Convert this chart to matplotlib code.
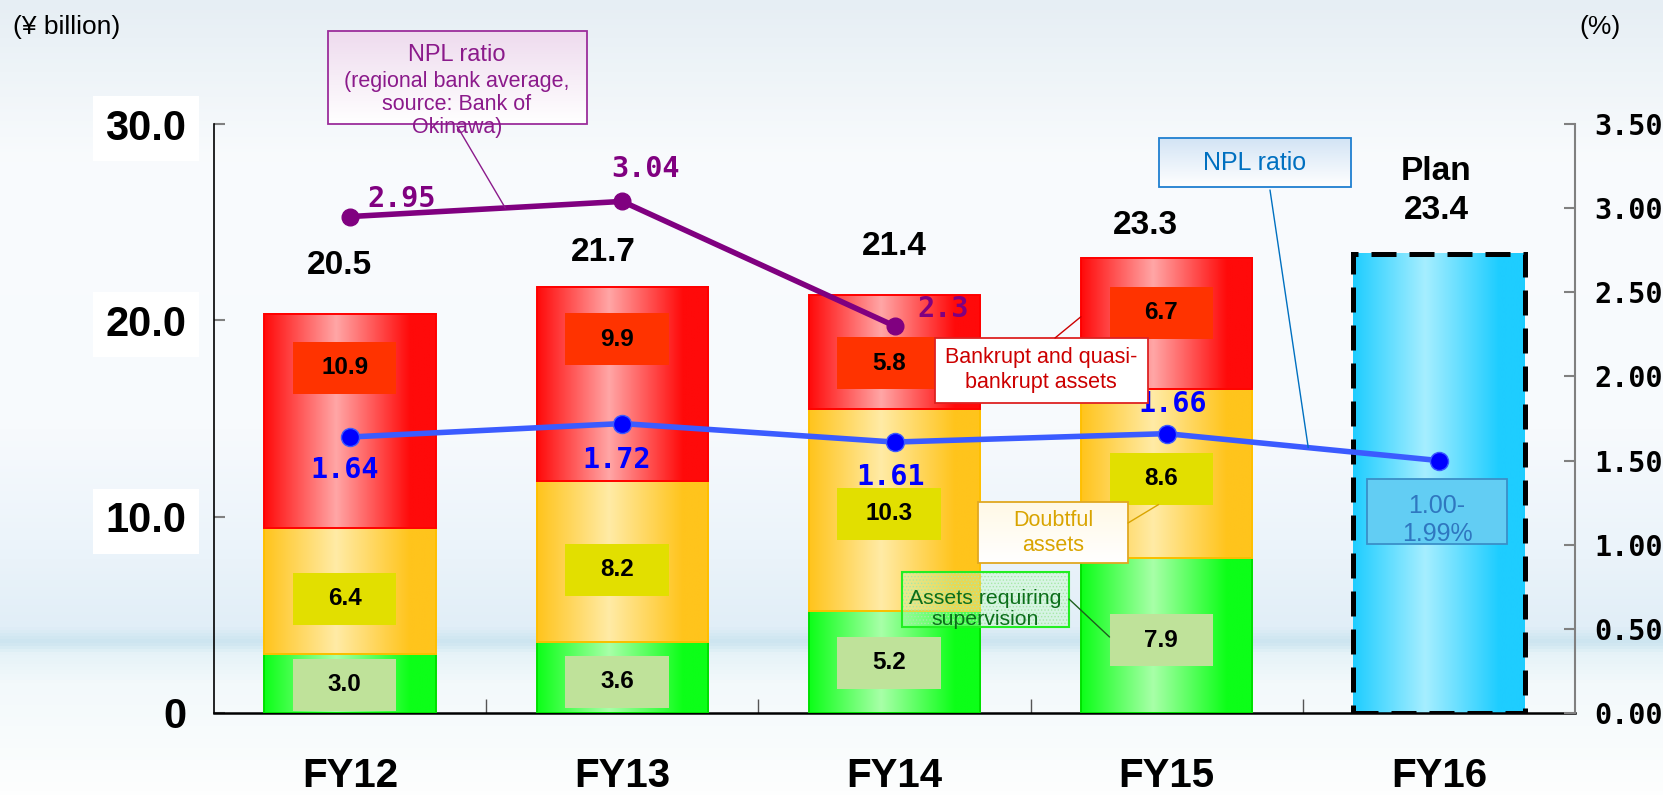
import numpy as np
import matplotlib
matplotlib.use('Agg')
import matplotlib.pyplot as plt
from matplotlib.colors import LinearSegmentedColormap
from matplotlib.patches import Rectangle, ConnectionPatch

years = ['FY12', 'FY13', 'FY14', 'FY15', 'FY16']
supervision = [3.0, 3.6, 5.2, 7.9]
doubtful = [6.4, 8.2, 10.3, 8.6]
bankrupt = [10.9, 9.9, 5.8, 6.7]
totals = [20.5, 21.7, 21.4, 23.3]
plan_total = 23.4
npl_ratio = [1.64, 1.72, 1.61, 1.66, 1.50]
regional_avg = [2.95, 3.04, 2.3]

plt.rcParams['font.family'] = ['Liberation Sans', 'DejaVu Sans']
plt.rcParams['hatch.linewidth'] = 0.6
MONO = 'DejaVu Sans Mono'

W, H = 1663, 795
fig = plt.figure(figsize=(W / 100, H / 100), dpi=100)

# pale sky / sea backdrop
bg = fig.add_axes([0, 0, 1, 1], zorder=-10)
stops = [(0, '#e6eef4'), (70, '#eef4f8'), (160, '#f9fbfd'), (430, '#f7fafd'),
         (560, '#eaf3fa'), (628, '#e1eef7'), (643, '#cce5f0'), (655, '#e6f3f8'),
         (685, '#f3f9fb'), (795, '#fdfefe')]
bg_cmap = LinearSegmentedColormap.from_list('bg', [(p / H, c) for p, c in stops])
bg.imshow(np.linspace(0, 1, H).reshape(-1, 1), cmap=bg_cmap, aspect='auto',
          extent=[0, 1, 0, 1])
bg.set_xlim(0, 1)
bg.set_ylim(0, 1)
bg.axis('off')

ax = fig.add_axes([214 / W, 1 - 713 / H, (1575 - 214) / W, (713 - 124) / H], zorder=1)
ax.patch.set_visible(False)
ax2 = ax.twinx()
ax2.set_zorder(2)
ax2.patch.set_visible(False)

x = np.arange(len(years))
width = 0.63


def grad(edge, mid):
    return LinearSegmentedColormap.from_list('', [(0, edge), (0.42, mid), (0.85, edge), (1, edge)])


def shade(bar, cmap):
    x0, y0 = bar.get_x(), bar.get_y()
    ax.imshow(np.linspace(0, 1, 256).reshape(1, -1), cmap=cmap, aspect='auto',
              interpolation='bilinear', zorder=2,
              extent=[x0, x0 + bar.get_width(), y0, y0 + bar.get_height()])


segments = [
    (supervision, '#0cff18', '#a8ffa8', '#00e000', '#bfe29a', [0.48, 0.44, 0.49, 0.47]),
    (doubtful, '#ffc41c', '#ffeba6', '#ffbf00', '#e2df00', [0.44, 0.45, 0.48, 0.47]),
    (bankrupt, '#ff0a0a', '#ffa6a6', '#ff0000', '#ff3300', [0.75, 0.73, 0.40, 0.58]),
]
box_w, box_h = 0.38, 2.65
bottoms = np.zeros(4)
for vals, edge, mid, line, boxc, fracs in segments:
    bars = ax.bar(x[:4], vals, width, bottom=bottoms, facecolor='none',
                  edgecolor=line, linewidth=1.4, zorder=3)
    cm = grad(edge, mid)
    for b in bars:
        shade(b, cm)
    for i, v in enumerate(vals):
        yc = bottoms[i] + v * fracs[i]
        ax.add_patch(Rectangle((x[i] - box_w / 2 - 0.02, yc - box_h / 2), box_w, box_h,
                               facecolor=boxc, edgecolor='none', zorder=4))
        ax.text(x[i] - 0.02, yc, f'{v:.1f}', ha='center', va='center', fontsize=17.5,
                fontweight='bold', color='black', zorder=5)
    bottoms += np.array(vals)

# FY16 plan bar
plan = ax.bar(x[4], plan_total, width, facecolor='none', edgecolor='black',
              linewidth=3.6, linestyle=(0, (5, 2.6)), zorder=3)
shade(plan[0], grad('#1ecdff', '#a6eeff'))

# total labels above the bars
tot_text = [f'{t:.1f}' for t in totals] + [f'Plan\n{plan_total:.1f}']
tot_top = list(bottoms) + [plan_total]
tot_off = [(-8, 35), (-14, 25), (0, 35), (-15, 23), (-2, 45)]
for i, (s, top) in enumerate(zip(tot_text, tot_top)):
    ax.annotate(s, (x[i], top), xytext=tot_off[i], textcoords='offset points',
                ha='center', va='center', fontsize=24, fontweight='bold',
                linespacing=1.3, zorder=5)

ax.set_xlim(-0.5, 4.5)
ax.set_ylim(0, 30)
ax.set_yticks([0, 10, 20, 30], ['0', '10.0', '20.0', '30.0'])
ax.set_xticks(x, years)
ax.set_xticks([0.5, 1.5, 2.5, 3.5], minor=True)
ax.tick_params(axis='y', direction='in', length=8, width=1.5, color='#808080',
               pad=20, labelsize=30)
ax.tick_params(axis='x', which='major', length=0, pad=32, labelsize=29)
ax.tick_params(axis='x', which='minor', direction='in', length=10, width=1, color='#555555')
for lbl in ax.get_yticklabels() + ax.get_xticklabels():
    lbl.set_fontweight('bold')
for lbl in ax.get_yticklabels()[1:]:
    lbl.set_bbox(dict(boxstyle='square,pad=0.3', fc='white', ec='none'))
for s in ['top', 'right']:
    ax.spines[s].set_visible(False)
ax.spines['bottom'].set_linewidth(1.8)
ax.spines['left'].set_linewidth(1.2)

# NPL ratio lines on the right axis
ax2.plot(x, npl_ratio, color='#3b5bff', lw=4, marker='o', ms=13,
         mfc='#0000ff', mec='#3b5bff', zorder=5)
ax2.plot(x[:3], regional_avg, color='#800080', lw=4, marker='o', ms=12,
         mfc='#800080', mec='#800080', zorder=5)
npl_off = [(-4, -24), (-4, -26), (-3, -25), (4, 21)]
for i, off in enumerate(npl_off):
    ax2.annotate(f'{npl_ratio[i]:g}', (x[i], npl_ratio[i]), xytext=off,
                 textcoords='offset points', ha='center', va='center',
                 fontsize=20.5, family=MONO, fontweight='bold', color='#0000ff', zorder=6)
reg_off = [(37, 13), (17, 23), (35, 12)]
for i, off in enumerate(reg_off):
    ax2.annotate(f'{regional_avg[i]:g}', (x[i], regional_avg[i]), xytext=off,
                 textcoords='offset points', ha='center', va='center',
                 fontsize=20.5, family=MONO, fontweight='bold', color='#800080', zorder=6)

ax2.set_ylim(0, 3.5)
ax2.set_yticks(np.arange(0, 3.51, 0.5))
ax2.set_yticklabels([f'{v:.2f}' for v in np.arange(0, 3.51, 0.5)],
                    family=MONO, fontweight='bold', fontsize=20.5)
ax2.tick_params(axis='y', direction='in', length=8, width=1.5, color='#808080', pad=14)
for s in ['top', 'left', 'bottom']:
    ax2.spines[s].set_visible(False)
ax2.spines['right'].set_color('#808080')
ax2.spines['right'].set_linewidth(1.5)

# callout boxes, laid out in pixel space
ov = fig.add_axes([0, 0, 1, 1], zorder=10)
ov.patch.set_visible(False)


def note_box(x0, y0, x1, y1, edge, top='white', bottom='white', lw=1.3):
    if top != bottom:
        ov.imshow(np.linspace(0, 1, 64).reshape(-1, 1), aspect='auto', zorder=1,
                  cmap=LinearSegmentedColormap.from_list('', [top, bottom]),
                  extent=[x0, x1, y1, y0])
    else:
        ov.add_patch(Rectangle((x0, y0), x1 - x0, y1 - y0, fc=top, ec='none', zorder=1))
    ov.add_patch(Rectangle((x0, y0), x1 - x0, y1 - y0, fill=False, ec=edge, lw=lw, zorder=3))


def connect(xy_px, xy_data, data_ax, color):
    con = ConnectionPatch(xyA=xy_px, coordsA=ov.transData, xyB=xy_data,
                          coordsB=data_ax.transData, color=color, lw=1, zorder=4)
    ov.add_artist(con)


# regional bank average
note_box(328, 31, 587, 124, '#9b2d9b', top='#eedbee', bottom='#ffffff')
ov.text(457, 55, 'NPL ratio', ha='center', va='center', fontsize=17, color='#8b1a8b', zorder=5)
ov.text(457, 71, '(regional bank average,\nsource: Bank of\nOkinawa)', ha='center', va='top',
        fontsize=15.5, color='#8b1a8b', linespacing=1.12, zorder=5)
connect((457, 126), (0.57, np.interp(0.57, x[:2], regional_avg[:2])), ax2, '#8b1a8b')

# own NPL ratio
note_box(1159, 138, 1351, 187, '#1f7fd0', top='#d3e4f5', bottom='#ffffff')
ov.text(1255, 163, 'NPL ratio', ha='center', va='center', fontsize=18, color='#0070c0', zorder=5)
connect((1270, 190), (3.52, np.interp(3.52, x[3:], npl_ratio[3:])), ax2, '#0070c0')

# bankrupt and quasi-bankrupt
note_box(935, 338, 1148, 403, '#dd2222', top='white', bottom='white')
ov.text(1041, 370, 'Bankrupt and quasi-\nbankrupt assets', ha='center', va='center',
        fontsize=15.5, color='#cc0000', linespacing=1.2, zorder=5)
connect((1055, 338), (3 - width / 2, 16.5 + bankrupt[3] * 0.55), ax, '#cc0000')

# doubtful
note_box(978, 502, 1128, 563, '#e0a820', top='#fff9e6', bottom='#ffffff')
ov.text(1053, 533, 'Doubtful\nassets', ha='center', va='center', fontsize=15.5,
        color='#d9a400', linespacing=1.2, zorder=5)
connect((1128, 523), (2.97, supervision[3] + doubtful[3] * 0.47 - box_h / 2), ax, '#d9a400')

# requiring supervision: translucent dotted box
ov.add_patch(Rectangle((902, 572), 167, 55, fc=(0.75, 1.0, 0.75, 0.35), ec='none', zorder=1))
ov.add_patch(Rectangle((902, 572), 167, 55, fill=False, hatch='.....', ec='#a8e8a8',
                       lw=0, zorder=2))
ov.add_patch(Rectangle((902, 572), 167, 55, fill=False, ec='#22ee22', lw=1.5, zorder=3))
ov.text(985, 609, 'Assets requiring\nsupervision', ha='center', va='center', fontsize=15.3,
        color='#0b6e1a', linespacing=1.1, zorder=5)
connect((1069, 599), (3 - box_w / 2 - 0.02, supervision[3] * 0.49), ax, '#1d5e1d')

# plan range
ov.add_patch(Rectangle((1367, 479), 140, 65, fc='#62cdf3', ec='#3a8fc8', lw=1.3, zorder=3))
ov.text(1437, 520, '1.00-\n1.99%', ha='center', va='center', fontsize=18,
        color='#2f77c0', linespacing=1.2, zorder=5)

ov.text(13, 27, '(¥ billion)', ha='left', va='center', fontsize=19, zorder=5)
ov.text(1600, 27, '(%)', ha='center', va='center', fontsize=19, zorder=5)

ov.set_xlim(0, W)
ov.set_ylim(H, 0)
ov.axis('off')

fig.savefig('out.png', dpi=100)
